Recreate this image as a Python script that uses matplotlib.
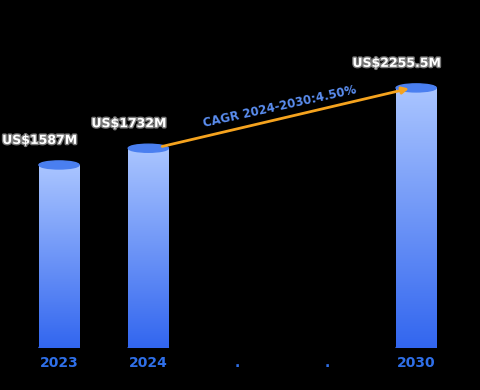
import matplotlib
matplotlib.use('Agg')
import matplotlib.pyplot as plt
import matplotlib.patheffects as pe
from matplotlib.patches import Ellipse
from matplotlib.colors import LinearSegmentedColormap
import numpy as np

categories = ['2023', '2024', '.', '.', '2030']
values = [1587, 1732, None, None, 2255.5]
labels = ['US$1587M', 'US$1732M', '', '', 'US$2255.5M']
cagr_text = 'CAGR 2024-2030:4.50%'
cagr_from, cagr_to = 1, 4

fig = plt.figure(figsize=(4.8, 3.9), dpi=100, facecolor='black')
ax = fig.add_axes([0.03, 0.108, 0.93, 0.892])
ax.set_facecolor('black')

cmap = LinearSegmentedColormap.from_list('bar', ['#3266ef', '#aac5ff'])
grad = np.linspace(0, 1, 256).reshape(-1, 1)
w = 0.45
cap_h = 70

for i, v in enumerate(values):
    if v is None:
        continue
    ax.imshow(grad, cmap=cmap, origin='lower', aspect='auto',
              extent=(i - w / 2, i + w / 2, 0, v), zorder=2)
    ax.add_patch(Ellipse((i, 0), w, cap_h, color='#3266ef', zorder=1))
    ax.add_patch(Ellipse((i, v), w, cap_h, color='#4a7ff0', zorder=3))
    ax.annotate(labels[i], (i, v), xytext=(-14, 13), textcoords='offset points',
                ha='center', va='bottom', fontsize=9, fontweight='bold',
                color='white',
                path_effects=[pe.withStroke(linewidth=2, foreground='#777777')],
                zorder=5)

ax.set_xlim(-0.5, 4.5)
ax.set_ylim(0, 3018)

# CAGR arrow
y0, y1 = values[cagr_from], values[cagr_to]
ax.annotate('', xy=(cagr_to - 0.05, y1), xytext=(cagr_from + w / 2 - 0.1, y0 + 10),
            arrowprops=dict(arrowstyle='-|>', color='#f5a31e', lw=2,
                            mutation_scale=10), zorder=4)
ax.text(2.47, 2090, cagr_text, rotation=12.5, ha='center', va='center',
        fontsize=8.5, fontweight='bold', color='#5b8ef0', zorder=5)

ax.set_xticks(range(len(categories)))
ax.set_xticklabels(categories, color='#2f6fe8', fontsize=10, fontweight='bold')
ax.tick_params(axis='x', length=0, pad=6)
ax.set_yticks([])
for s in ax.spines.values():
    s.set_visible(False)

fig.savefig('out.png', dpi=100, facecolor='black')
